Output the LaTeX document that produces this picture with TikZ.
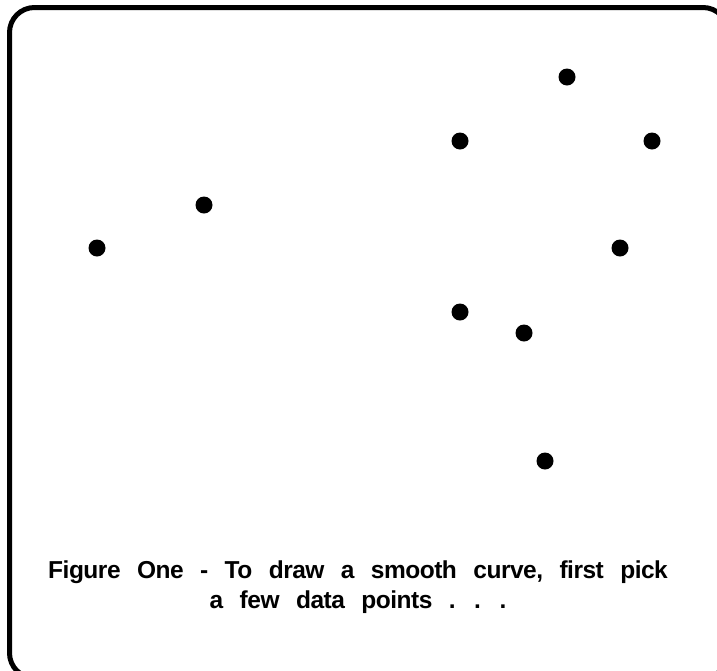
\documentclass[tikz,border=0pt]{standalone}
\usepackage{fontspec}
\setmainfont{Liberation Sans}
\newfontfamily\captionfont[WordSpace=2.6,LetterSpace=-2]{Liberation Sans}
\usetikzlibrary{positioning}

\begin{document}
\begin{tikzpicture}[
  x=1pt, y=-1pt,
  frame/.style={draw=black, line width=5pt, rounded corners=25pt},
  datapt/.style={circle, fill=black, inner sep=0pt, minimum size=17pt},
  caption/.style={align=center, inner sep=0pt,
    font=\captionfont\bfseries\fontsize{24.5}{29.5}\selectfont}
]

\useasboundingbox (0,0) rectangle (717,670);
\clip (0,0) rectangle (717,670);

% outer frame, runs off the right and bottom edges
\draw [frame] (9.5,7.5) rectangle (728,678);

% data points
\node (p1) [datapt] at (97,248) {};
\node (p2) [datapt] at (204,205) {};
\node (p3) [datapt] at (460,141) {};
\node (p4) [datapt] at (567,77) {};
\node (p5) [datapt] at (652,141) {};
\node (p6) [datapt] at (620,248) {};
\node (p7) [datapt] at (460,312) {};
\node (p8) [datapt] at (524,333) {};
\node (p9) [datapt] at (545,461) {};

\node (cap) [caption] at (358,587)
  {Figure One - To draw a smooth curve, first pick\\a few data points . . .};

\end{tikzpicture}
\end{document}
